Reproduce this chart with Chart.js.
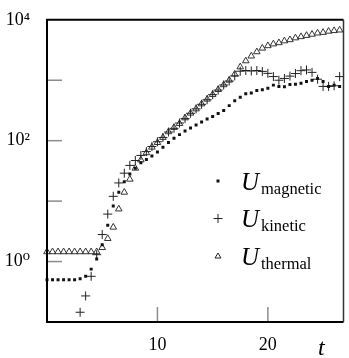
<!DOCTYPE html>
<html><head><meta charset="utf-8">
<script src="https://cdn.jsdelivr.net/npm/chart.js@4.4.1/dist/chart.umd.min.js"></script>
<style>html,body{margin:0;padding:0;background:#fff;overflow:hidden}#wrap{width:349px;height:358px}</style>
</head><body><div id="wrap"><canvas id="c" width="349" height="358"></canvas></div>
<script>
const times = [0,0.5,1,1.5,2,2.5,3,3.5,4,4.5,5,5.5,6,6.5,7,7.5,8,8.5,9,9.5,10,10.5,11,11.5,12,12.5,13,13.5,14,14.5,15,15.5,16,16.5,17,17.5,18,18.5,19,19.5,20,20.5,21,21.5,22,22.5,23,23.5,24,24.5,25,25.5,26,26.5];
const uMagnetic = [0.5,0.5,0.5,0.5,0.5,0.5,0.52,0.57,0.75,1.1,1.9,4.0,8.3,14,21,28,35,43,49,56,65,78,93,110,126,145,162,182,204,229,251,282,316,380,457,525,600,615,675,695,740,830,790,780,850,855,890,950,1000,1070,950,790,830,790];
const uKinetic = [null,null,null,null,null,null,0.145,0.27,0.57,1.3,2.8,6.1,12,20,29,39,47,57,66,80,96,113,139,160,196,232,284,336,400,476,578,688,835,970,1180,1410,1450,1420,1450,1400,1300,1150,1000,1070,1170,1290,1440,1480,1350,1040,790,790,810,1150];
const uThermal = [1.45,1.45,1.45,1.45,1.45,1.45,1.45,1.45,1.45,1.45,1.7,2.4,3.7,7.4,14,23,35,48,63,78,93,113,140,165,192,238,285,335,405,485,580,700,840,1000,1260,1660,2090,2510,2950,3390,3720,3980,4170,4470,4680,5010,5250,5500,5750,6030,6170,6460,6610,6760];
const yTickValues = [1, 100, 10000];
const yTickLabels = ['10\u2070', '10\u00B2', '10\u2074'];
const yInnerTicks = [1, 10, 100, 1000];
const xTickValues = [10, 20];
const legendNames = ['magnetic', 'kinetic', 'thermal'];
const axisName = 't';

const pts = (ys) => times.map((t, i) => ({x: t, y: ys[i]}));
const SERIF = "'Liberation Serif', 'DejaVu Serif', serif";

const decor = {
  id: 'decor',
  afterDatasetsDraw(chart) {
    const {ctx, chartArea: a, scales: {x, y}} = chart;
    ctx.save();
    ctx.strokeStyle = '#8c8c8c';
    ctx.lineWidth = 1.5;
    yInnerTicks.forEach(v => {
      const py = y.getPixelForValue(v);
      ctx.beginPath(); ctx.moveTo(a.left, py); ctx.lineTo(a.left + 15, py); ctx.stroke();
    });
    xTickValues.forEach(v => {
      const px = x.getPixelForValue(v);
      ctx.beginPath(); ctx.moveTo(px, a.bottom); ctx.lineTo(px, a.bottom - 15); ctx.stroke();
    });
    // frame
    ctx.strokeStyle = '#000';
    ctx.lineWidth = 2;
    ctx.beginPath();
    ctx.moveTo(a.right, a.top); ctx.lineTo(a.left, a.top); ctx.lineTo(a.left, a.bottom); ctx.lineTo(a.right, a.bottom);
    ctx.stroke();
    ctx.strokeStyle = '#333';
    ctx.lineWidth = 1.5;
    ctx.beginPath(); ctx.moveTo(a.right, a.top); ctx.lineTo(a.right, a.bottom); ctx.stroke();

    // legend
    const mx = 218, centers = [181, 218.5, 256];
    ctx.fillStyle = '#111';
    ctx.fillRect(mx - 1.5, centers[0] - 1.5, 3, 3);
    ctx.strokeStyle = '#222'; ctx.lineWidth = 1;
    ctx.beginPath(); ctx.moveTo(mx - 4.5, centers[1]); ctx.lineTo(mx + 4.5, centers[1]);
    ctx.moveTo(mx, centers[1] - 4.5); ctx.lineTo(mx, centers[1] + 4.5); ctx.stroke();
    ctx.beginPath(); ctx.moveTo(mx, centers[2] - 3); ctx.lineTo(mx + 3, centers[2] + 2); ctx.lineTo(mx - 3, centers[2] + 2); ctx.closePath(); ctx.stroke();
    ctx.fillStyle = '#000';
    ctx.textBaseline = 'alphabetic';
    ctx.textAlign = 'left';
    legendNames.forEach((n, i) => {
      const c = centers[i];
      ctx.font = "italic 25px " + SERIF;
      ctx.fillText('U', 241, c + 8.5);
      ctx.font = "16.5px " + SERIF;
      ctx.fillText(n, 261, c + 12.5);
    });
    ctx.font = "italic 24px " + SERIF;
    ctx.fillText(axisName, 318, 355);
    ctx.restore();
  }
};

new Chart(document.getElementById('c'), {
  type: 'scatter',
  data: {
    datasets: [
      {label: 'U magnetic', data: pts(uMagnetic), pointStyle: 'rect', pointRadius: 2.1, backgroundColor: '#111', borderWidth: 0, clip: 6},
      {label: 'U kinetic', data: pts(uKinetic), pointStyle: 'cross', pointRadius: 4.5, borderColor: '#222', borderWidth: 1, backgroundColor: '#222', clip: 6},
      {label: 'U thermal', data: pts(uThermal), pointStyle: 'triangle', pointRadius: 3.8, borderColor: '#333', borderWidth: 1, backgroundColor: 'rgba(255,255,255,0)', clip: 6}
    ]
  },
  options: {
    responsive: false,
    animation: false,
    devicePixelRatio: 1,
    layout: {padding: {top: 16, right: 2, left: 0, bottom: 0}},
    plugins: {legend: {display: false}, tooltip: {enabled: false}},
    scales: {
      x: {
        type: 'linear', min: 0, max: 26.85,
        grid: {display: false}, border: {display: false},
        afterBuildTicks: s => { s.ticks = xTickValues.map(v => ({value: v})); },
        afterFit: s => { s.height = 36; },
        ticks: {color: '#000', padding: 4, maxRotation: 0, font: {family: SERIF, size: 18}, callback: v => String(v)}
      },
      y: {
        type: 'logarithmic', min: 0.1, max: 10000,
        grid: {display: false}, border: {display: false},
        afterBuildTicks: s => { s.ticks = yTickValues.map(v => ({value: v})); },
        afterFit: s => { s.width = 47; },
        ticks: {color: '#000', padding: 9, font: {family: SERIF, size: 18}, callback: (v) => { const i = yTickValues.indexOf(v); return i >= 0 ? yTickLabels[i] : ''; }}
      }
    }
  },
  plugins: [decor]
});
</script>
</body></html>
